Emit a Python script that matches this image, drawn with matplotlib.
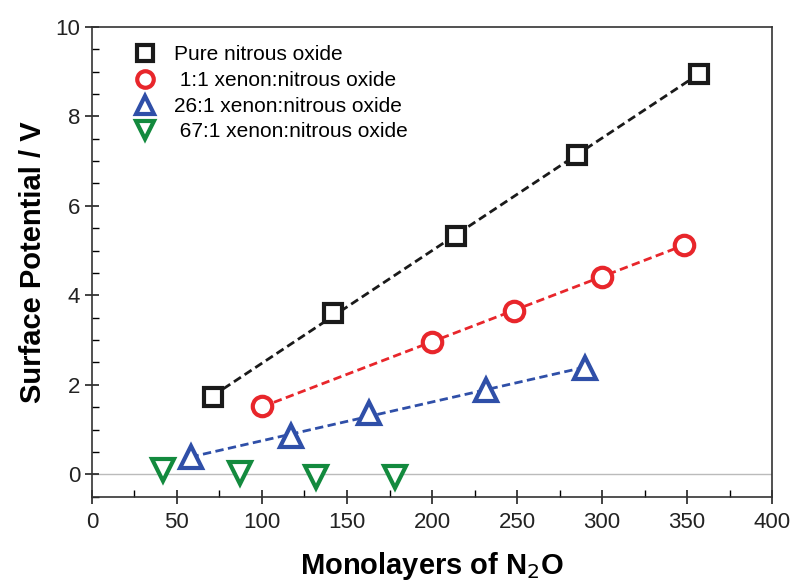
import numpy as np
import matplotlib.pyplot as plt
from matplotlib.ticker import MultipleLocator

plt.rcParams['font.family'] = ['Liberation Sans', 'DejaVu Sans']

# monolayers of N2O and measured surface potential (V) for each gas mix
pure_x = [71, 142, 214, 285, 357]
pure_y = [1.72, 3.60, 5.33, 7.13, 8.95]

xe1_x = [100, 200, 248, 300, 348]
xe1_y = [1.52, 2.95, 3.65, 4.42, 5.13]

xe26_x = [58, 117, 163, 232, 290]
xe26_y = [0.38, 0.85, 1.38, 1.88, 2.38]

xe67_x = [42, 87, 132, 178]
xe67_y = [0.10, 0.02, -0.06, -0.06]

labels = ["Pure nitrous oxide", " 1:1 xenon:nitrous oxide",
          "26:1 xenon:nitrous oxide", " 67:1 xenon:nitrous oxide"]

fig = plt.figure(figsize=(7.92, 5.83), dpi=100)
ax = fig.add_axes([0.116, 0.148, 0.859, 0.806])

ax.axhline(0, color='#bbbbbb', lw=1.0, zorder=1)

series = [
    (pure_x, pure_y, 's', '#1a1a1a', True),
    (xe1_x, xe1_y, 'o', '#e8262b', True),
    (xe26_x, xe26_y, '^', '#2f4fa8', True),
    (xe67_x, xe67_y, 'v', '#138a3e', False),
]
sizes = {'s': 13, 'o': 14, '^': 16, 'v': 16}

for (xs, ys, mk, col, fit), lab in zip(series, labels):
    if fit:
        k, b = np.polyfit(xs, ys, 1)
        xx = np.array([min(xs), max(xs)])
        ax.plot(xx, k * xx + b, ls=(0, (3, 1.6)), color=col, lw=2.0, zorder=2)
    ax.plot(xs, ys, ls='none', marker=mk, ms=sizes[mk], mew=3.0,
            mec=col, mfc='white', label=lab, zorder=3)

ax.set_xlim(0, 400)
ax.set_ylim(-0.5, 10)
ax.xaxis.set_major_locator(MultipleLocator(50))
ax.xaxis.set_minor_locator(MultipleLocator(25))
ax.yaxis.set_major_locator(MultipleLocator(2))
ax.yaxis.set_minor_locator(MultipleLocator(0.5))
ax.tick_params(which='major', direction='inout', length=10, width=1.2,
               labelsize=16, colors='#222222', top=False, right=False)
ax.tick_params(which='minor', direction='in', length=5, width=1.0,
               top=False, right=False)
ax.tick_params(axis='x', pad=6)
for sp in ax.spines.values():
    sp.set_linewidth(1.2)
    sp.set_color('#333333')

ax.set_xlabel(r"Monolayers of N$_2$O", fontsize=21, fontweight='bold',
              labelpad=12)
ax.set_ylabel("Surface Potential / V", fontsize=21, fontweight='bold',
              labelpad=6)

ax.legend(loc='upper left', bbox_to_anchor=(0.035, 0.978), frameon=False,
          fontsize=15, handletextpad=0.4, labelspacing=0.32,
          markerscale=0.85, borderaxespad=0)

fig.savefig("out.png", dpi=100)
